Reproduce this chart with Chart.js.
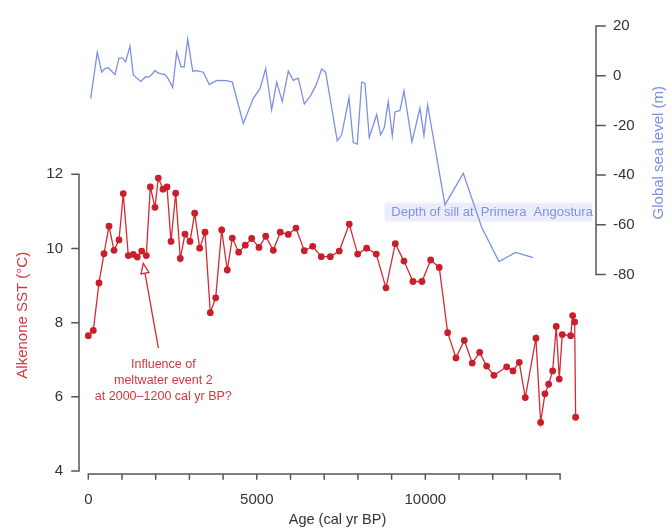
<!DOCTYPE html>
<html>
<head>
<meta charset="utf-8">
<script src="https://cdn.jsdelivr.net/npm/chart.js@4.4.4/dist/chart.umd.min.js"></script>
<style>
  html, body { margin: 0; padding: 0; background: #fff; }
  #wrap { width: 671px; height: 532px; }
</style>
</head>
<body>
<div id="wrap"><canvas id="c" width="671" height="532"></canvas></div>
<script>
// ---- values ----
const sstAge = [0,148,317,466,614,763,911,1038,1187,1335,1454,1584,1721,1840,1979,2077,2216,2335,2454,2593,
  2730,2869,3018,3157,3305,3463,3620,3780,3958,4124,4273,4462,4658,4848,5065,5264,5489,5697,5934,6162,
  6409,6658,6913,7180,7447,7744,7993,8260,8545,8833,9109,9367,9634,9901,10159,10414,10663,10910,11156,11393,
  11613,11820,12037,12414,12601,12788,12966,13283,13422,13550,13660,13779,13886,13975,14064,14313,14372,14431,14461];
const sstVal = [7.65,7.79,9.07,9.86,10.60,9.95,10.23,11.48,9.81,9.84,9.77,9.93,9.81,11.66,11.11,11.90,11.60,11.66,10.19,11.49,
  9.73,10.39,10.19,10.95,10.01,10.44,8.27,8.67,10.50,9.42,10.28,9.90,10.09,10.27,10.03,10.33,9.95,10.44,10.38,10.55,
  9.94,10.06,9.78,9.78,9.93,10.66,9.85,10.01,9.85,8.94,10.13,9.66,9.11,9.11,9.69,9.49,7.73,7.05,7.52,6.91,
  7.20,6.83,6.58,6.81,6.70,6.93,5.98,7.58,5.31,6.08,6.34,6.70,7.90,6.48,7.68,7.65,8.19,8.02,5.45];

const seaAge = [71,267,397,495,593,792,911,1009,1110,1237,1335,1554,1703,1792,1869,1979,2077,2276,2374,2504,
  2623,2751,2848,2949,3098,3216,3412,3590,3810,4106,4273,4599,4896,5094,5264,5441,5590,5756,5934,6082,
  6231,6409,6607,6776,6924,7043,7388,7518,7735,7863,7981,8112,8210,8337,8557,8675,8783,8901,9020,9100,
  9248,9367,9604,9841,9960,10069,10583,11127,11672,12186,12680,13203];
const seaVal = [-9.1,9.5,1.4,2.9,3.2,0.4,7.1,7.1,5.6,11.9,0.3,-2.3,-0.4,-0.6,0.3,2.0,1.0,0.4,-1.3,-4.8,
  9.5,3.6,3.6,14.8,1.8,2.0,1.4,-3.6,-1.9,-2.0,-2.6,-19.2,-9.1,-5.2,2.9,-13.7,-2.6,-10.4,1.8,-1.9,
  -1.0,-11.4,-7.8,-3.2,2.7,1.4,-26.2,-23.8,-8.9,-26.9,-27.5,-2.6,-3.0,-24.9,-15.7,-23.8,-20.9,-10.4,-24.2,-14.6,
  -14.0,-6.1,-26.6,-13.1,-24.0,-11.8,-52.0,-39.3,-61.0,-74.8,-71.1,-73.2];

const ageTicks = [0,1000,2000,3000,4000,5000,6000,7000,8000,9000,10000,11000,12000,13000,14000];
const ageLabels = [0,5000,10000];
const sstTicks = [4,6,8,10,12];
const seaTicks = [-80,-60,-40,-20,0,20];

const sillLevel = -55;
const sillText = 'Depth of sill at  Primera  Angostura';
const noteText = ['Influence of', 'meltwater event 2', 'at 2000\u20131200 cal yr BP?'];

const FONT = '"Liberation Sans", Arial, Helvetica, sans-serif';
const RED = '#d42a33';
const RED_TXT = '#d8363d';
const BLUE = '#7e8fe6';
const AXIS = '#555';

const tickFit = (ticks) => (scale) => { scale.ticks = ticks.map(v => ({ value: v })); };

// axis lines, titles, sill band and the annotation arrow
const paleoDecor = {
  id: 'paleoDecor',
  beforeDatasetsDraw(chart) {
    const { ctx, scales: { x, y2 } } = chart;
    const x0 = x.getPixelForValue(8800), x1 = x.getPixelForValue(14950);
    const yt = y2.getPixelForValue(sillLevel + 3.6), yb = y2.getPixelForValue(sillLevel - 3.6);
    ctx.save();
    ctx.fillStyle = '#ebedfc';
    ctx.shadowColor = '#eef0fd';
    ctx.shadowBlur = 4;
    ctx.fillRect(x0, yt, x1 - x0, yb - yt);
    ctx.shadowBlur = 0;
    ctx.fillStyle = '#8192e4';
    ctx.font = '13px ' + FONT;
    ctx.textBaseline = 'middle';
    ctx.fillText(sillText, x.getPixelForValue(8990), y2.getPixelForValue(sillLevel));
    ctx.restore();
  },
  afterDraw(chart) {
    const { ctx, chartArea: ca, scales: { x, y, y2 } } = chart;
    ctx.save();
    ctx.strokeStyle = AXIS;
    ctx.lineWidth = 1.5;
    ctx.lineCap = 'square';

    // left SST axis
    ctx.beginPath();
    ctx.moveTo(ca.left, y.getPixelForValue(12));
    ctx.lineTo(ca.left, y.getPixelForValue(4));
    sstTicks.forEach(v => {
      const p = y.getPixelForValue(v);
      ctx.moveTo(ca.left - 7, p); ctx.lineTo(ca.left, p);
    });
    // right sea level axis
    ctx.moveTo(ca.right, y2.getPixelForValue(20));
    ctx.lineTo(ca.right, y2.getPixelForValue(-80));
    seaTicks.forEach(v => {
      const p = y2.getPixelForValue(v);
      ctx.moveTo(ca.right, p); ctx.lineTo(ca.right + 9, p);
    });
    // bottom age axis, slightly detached
    const ay = ca.bottom + 3;
    ctx.moveTo(x.getPixelForValue(0), ay);
    ctx.lineTo(x.getPixelForValue(14000), ay);
    ageTicks.forEach(v => {
      const p = x.getPixelForValue(v);
      ctx.moveTo(p, ay); ctx.lineTo(p, ay + 5);
    });
    ctx.stroke();

    // vertical titles
    ctx.font = '15px ' + FONT;
    ctx.textAlign = 'center';
    ctx.textBaseline = 'middle';
    ctx.save();
    ctx.translate(23, y.getPixelForValue(8.2));
    ctx.rotate(-Math.PI / 2);
    ctx.fillStyle = RED_TXT;
    ctx.fillText('Alkenone SST (\u00b0C)', 0, 0);
    ctx.restore();
    ctx.save();
    ctx.translate(659, y2.getPixelForValue(-31));
    ctx.rotate(-Math.PI / 2);
    ctx.fillStyle = BLUE;
    ctx.fillText('Global sea level (m)', 0, 0);
    ctx.restore();

    // annotation arrow with open head
    const hx = x.getPixelForValue(1630), hy = y.getPixelForValue(9.6);
    const tx = x.getPixelForValue(2077), ty = y.getPixelForValue(7.33);
    const ang = Math.atan2(hy - ty, hx - tx);
    const bx = hx - 10 * Math.cos(ang), by = hy - 10 * Math.sin(ang);
    const nx = -Math.sin(ang) * 4, ny = Math.cos(ang) * 4;
    ctx.strokeStyle = RED;
    ctx.lineWidth = 1.3;
    ctx.beginPath();
    ctx.moveTo(tx, ty); ctx.lineTo(bx, by);
    ctx.moveTo(hx, hy); ctx.lineTo(bx + nx, by + ny); ctx.lineTo(bx - nx, by - ny); ctx.closePath();
    ctx.stroke();

    ctx.fillStyle = RED_TXT;
    ctx.font = '12.5px ' + FONT;
    const cx = x.getPixelForValue(2226);
    [6.88, 6.45, 6.01].forEach((v, i) => ctx.fillText(noteText[i], cx, y.getPixelForValue(v)));
    ctx.restore();
  }
};

new Chart(document.getElementById('c'), {
  type: 'scatter',
  data: {
    datasets: [
      {
        label: 'Global sea level',
        data: seaAge.map((a, i) => ({ x: a, y: seaVal[i] })),
        yAxisID: 'y2',
        showLine: true,
        borderColor: BLUE,
        borderWidth: 1.3,
        pointRadius: 0,
        tension: 0
      },
      {
        label: 'Alkenone SST',
        data: sstAge.map((a, i) => ({ x: a, y: sstVal[i] })),
        yAxisID: 'y',
        showLine: true,
        borderColor: RED,
        borderWidth: 1.3,
        pointRadius: 3.4,
        pointBackgroundColor: '#c91f2b',
        pointBorderWidth: 0,
        tension: 0
      }
    ]
  },
  options: {
    responsive: false,
    animation: false,
    layout: { padding: { top: 16, left: 0, right: 0, bottom: 0 } },
    plugins: { legend: { display: false }, tooltip: { enabled: false } },
    scales: {
      x: {
        type: 'linear',
        min: -276, max: 15065,
        afterBuildTicks: tickFit(ageTicks),
        afterFit: (s) => { s.height = 61; },
        grid: { display: false, drawTicks: false },
        border: { display: false },
        ticks: {
          autoSkip: false, maxRotation: 0, padding: 20,
          color: '#333', font: { family: FONT, size: 15 },
          callback: (v) => ageLabels.includes(v) ? String(v) : ''
        },
        title: {
          display: true, text: 'Age (cal yr BP)', color: '#333',
          font: { family: FONT, size: 14.5 }, padding: { top: 0, bottom: 3 }
        }
      },
      y: {
        position: 'left',
        min: 4, max: 16,
        afterBuildTicks: tickFit(sstTicks),
        afterFit: (s) => { s.width = 79; },
        grid: { display: false, drawTicks: false },
        border: { display: false },
        ticks: { padding: 16, color: '#333', font: { family: FONT, size: 15 } }
      },
      y2: {
        position: 'right',
        min: -159.1, max: 20,
        afterBuildTicks: tickFit(seaTicks),
        afterFit: (s) => { s.width = 75; },
        grid: { display: false, drawTicks: false },
        border: { display: false },
        ticks: { padding: 17, color: '#333', font: { family: FONT, size: 15 } }
      }
    }
  },
  plugins: [paleoDecor]
});
</script>
</body>
</html>
